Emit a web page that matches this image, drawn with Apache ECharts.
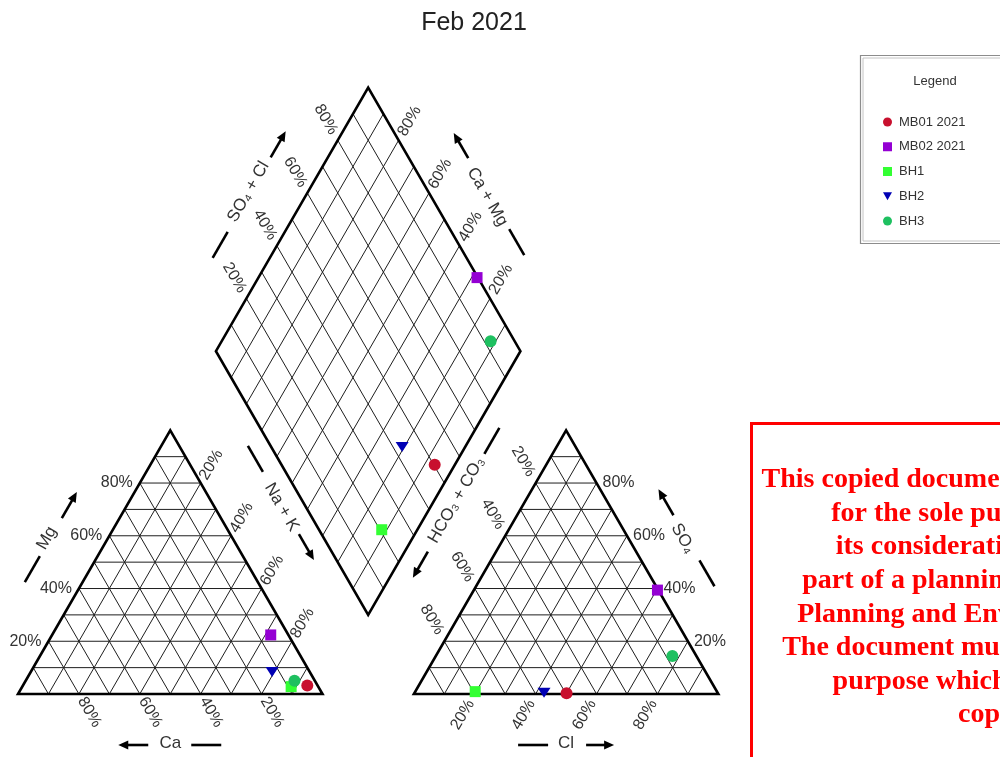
<!DOCTYPE html>
<html>
<head>
<meta charset="utf-8">
<script src="https://cdn.jsdelivr.net/npm/echarts@6/dist/echarts.min.js"></script>
<style>html,body{margin:0;padding:0;background:#fff}#c{width:1000px;height:757px}</style>
</head>
<body>
<div id="c"></div>
<script>
// ---------------- data (percent of meq) ----------------
const samples = ['MB01 2021', 'MB02 2021', 'BH1', 'BH2', 'BH3'];
const Ca   = [3.4, 5.8, 8.9, 12.4, 6.7];
const Mg   = [3.2, 22.4, 2.8, 8.3, 5.0];
const NaK  = [93.4, 71.8, 88.3, 79.3, 88.3];
const HCO3 = [49.7, 0.3, 79.4, 57.0, 7.9];
const SO4  = [0.3, 39.4, 0.9, 0.5, 14.4];
const Cl   = [50.0, 60.3, 19.7, 42.5, 77.7];
const gridSteps = [10, 20, 30, 40, 50, 60, 70, 80, 90];
const tickValues = [20, 40, 60, 80];
const tickLabels = ['20%', '40%', '60%', '80%'];
const axisTitles = ['Mg', 'Ca', 'Na + K', 'Cl', 'SO\u2084', 'HCO\u2083 + CO\u2083', 'SO\u2084 + Cl', 'Ca + Mg'];
const chartTitle = 'Feb 2021';
const legendTitle = 'Legend';
const noticeLines = ['This copied document to be made available', 'for the sole purpose of enabling',
  'its consideration and review as', 'part of a planning process under the',
  'Planning and Environment Act 1987.', 'The document must not be used for any',
  'purpose which may breach any', 'copyright.'];

// ---------------- styles ----------------
const colors = ['#c8102e', '#9400d3', '#33ff33', '#0000b4', '#1ec060'];
const symbols = ['circle', 'rect', 'rect', 'triangle', 'circle'];
const legendIcons = ['circle', 'rect', 'rect', 'path://M0,0L10,0L5,8.66Z', 'circle'];
const symSizes = [12, 11, 11, [13, 10], 12];
const symRot = [0, 0, 0, 180, 0];
const FONT = '"Liberation Sans", Arial, "DejaVu Sans", sans-serif';

// ---------------- Piper geometry (plot units) ----------------
const SQ3 = Math.sqrt(3);
const S = 100, GAP = 30, H = S * SQ3 / 2;
function cat(ca, mg, na) { const t = ca + mg + na; return [(na + mg / 2) / t * S, mg / t * H]; }
function an(hc, so, cl) { const t = hc + so + cl; return [S + GAP + (cl + so / 2) / t * S, so / t * H]; }
const DBX = S + GAP / 2, DBY = GAP * SQ3 / 2;
function dia(cm, sc) { return [DBX + (sc - cm) / 2 * S / 100, DBY + (cm + sc) / 100 * H]; }

const A = cat(100, 0, 0), B = cat(0, 0, 100), C = cat(0, 100, 0);
const D = an(100, 0, 0), E = an(0, 0, 100), F = an(0, 100, 0);
const DB = dia(0, 0), DL = dia(100, 0), DR = dia(0, 100), DT = dia(100, 100);
const shapes = [[A, B, C], [D, E, F], [DB, DR, DT, DL]];
const centers = [[50, H / 3], [S + GAP + 50, H / 3], [DBX, DBY + H]];

// grid segments
const gridSeg = [];
gridSteps.forEach(s => {
  [[cat(100 - s, s, 0), cat(0, s, 100 - s)], [cat(s, 100 - s, 0), cat(s, 0, 100 - s)], [cat(100 - s, 0, s), cat(0, 100 - s, s)],
   [an(100 - s, s, 0), an(0, s, 100 - s)], [an(s, 100 - s, 0), an(s, 0, 100 - s)], [an(100 - s, 0, s), an(0, 100 - s, s)],
   [dia(s, 0), dia(s, 100)], [dia(0, s), dia(100, s)]].forEach(p => gridSeg.push([p[0][0], p[0][1], p[1][0], p[1][1]]));
});

// tick label sets: anchor function, pixel direction, distance, rotation, align
const c60 = 0.5, s60 = SQ3 / 2;
const labelSets = [
  { f: t => cat(t, 0, 100 - t), dir: [c60, s60], d: 21, rot: -60, align: 'center' },
  { f: t => cat(100 - t, t, 0), dir: [-1, 0], d: 7, rot: 0, align: 'right' },
  { f: t => cat(0, 100 - t, t), dir: [c60, -s60], d: 21, rot: 60, align: 'center' },
  { f: t => an(100 - t, 0, t), dir: [-c60, s60], d: 24, rot: 60, align: 'center' },
  { f: t => an(0, t, 100 - t), dir: [1, 0], d: 6, rot: 0, align: 'left' },
  { f: t => an(t, 100 - t, 0), dir: [-c60, -s60], d: 25, rot: -60, align: 'center' },
  { f: t => dia(100, t), dir: [-c60, -s60], d: 24, rot: -60, align: 'center' },
  { f: t => dia(t, 100), dir: [c60, -s60], d: 22, rot: 60, align: 'center' }
];
const tickData = [];
labelSets.forEach((ls, si) => tickValues.forEach((t, ti) => { const p = ls.f(t); tickData.push([p[0], p[1], si, ti]); }));

// axis titles: side p0->p1 (text direction), shape index, offsets in px
const titleDefs = [
  { p0: A, p1: C, sh: 0, nd: 53, td: -3, ld: 50, dash: [-52, -22], arrow: [22, 52] },
  { p0: A, p1: B, sh: 0, nd: 49, td: 0, ld: 51, dash: [21, 51], arrow: [-22, -52] },
  { p0: C, p1: B, sh: 0, nd: 58, td: -30, ld: 59.5, dash: [-100, -70], arrow: [2, 32] },
  { p0: D, p1: E, sh: 1, nd: 49, td: 0, ld: 51, dash: [-48, -18], arrow: [20, 48] },
  { p0: F, p1: E, sh: 1, nd: 47, td: 0, ld: 50.5, dash: [27, 57], arrow: [-25, -55] },
  { p0: D, p1: F, sh: 1, nd: 60, td: 37, ld: 59, dash: [91, 121], arrow: [-22, -52] },
  { p0: DL, p1: DT, sh: 2, nd: 51.5, td: 2, ld: 49.5, dash: [-73, -43], arrow: [43, 73] },
  { p0: DT, p1: DR, sh: 2, nd: 48.5, td: 2, ld: 51.3, dash: [41, 71], arrow: [-41, -70] }
];

// ---------------- sample positions ----------------
const scatterSeries = samples.map((name, i) => {
  const cm = (Ca[i] + Mg[i]) / (Ca[i] + Mg[i] + NaK[i]) * 100;
  const sc = (SO4[i] + Cl[i]) / (HCO3[i] + SO4[i] + Cl[i]) * 100;
  return {
    name, type: 'scatter', z: 5,
    symbol: symbols[i], symbolSize: symSizes[i], symbolRotate: symRot[i],
    itemStyle: { color: colors[i], opacity: 1 },
    data: [cat(Ca[i], Mg[i], NaK[i]), an(HCO3[i], SO4[i], Cl[i]), dia(cm, sc)]
  };
});

const chart = echarts.init(document.getElementById('c'), null, { renderer: 'canvas' });

const noticeGraphics = noticeLines.map((t, i) => ({
  type: 'text', x: 1019, y: 480 + i * 33.6, z: 10,
  style: { text: t, font: 'bold 28px "Liberation Serif", "Times New Roman", serif', fill: '#ff0000', align: 'center', verticalAlign: 'middle' }
}));

chart.setOption({
  animation: false,
  backgroundColor: '#ffffff',
  grid: { left: 18, top: 85, width: 700.35, height: 609 },
  xAxis: { type: 'value', min: 0, max: 230, show: false },
  yAxis: { type: 'value', min: 0, max: 200, show: false },
  legend: {
    orient: 'vertical', left: 878, top: 109.5, itemWidth: 9, itemHeight: 9, itemGap: 9.75,
    textStyle: { fontSize: 13, color: '#333', fontFamily: FONT, lineHeight: 15, padding: [0, 0, 0, 2] },
    data: samples.map((s, i) => ({ name: s, icon: legendIcons[i] }))
  },
  graphic: [
    { type: 'text', x: 474, y: 23, style: { text: chartTitle, font: '25px ' + FONT, fill: '#222', align: 'center', verticalAlign: 'middle' } },
    { type: 'rect', shape: { x: 860.5, y: 55.5, width: 200, height: 188 }, style: { fill: 'none', stroke: '#8c8c8c', lineWidth: 1.2 } },
    { type: 'rect', shape: { x: 863, y: 58, width: 200, height: 183 }, style: { fill: 'none', stroke: '#c4c4c4', lineWidth: 1 } },
    { type: 'text', x: 935, y: 81.5, style: { text: legendTitle, font: '13px ' + FONT, fill: '#333', align: 'center', verticalAlign: 'middle' } },
    { type: 'rect', shape: { x: 751.5, y: 423.5, width: 400, height: 400 }, style: { fill: 'none', stroke: '#ff0000', lineWidth: 3 } }
  ].concat(noticeGraphics),
  series: [
    { // grid lines
      type: 'custom', silent: true, z: 1, clip: false,
      data: gridSeg,
      renderItem: (params, api) => {
        const p1 = api.coord([api.value(0), api.value(1)]);
        const p2 = api.coord([api.value(2), api.value(3)]);
        return { type: 'line', shape: { x1: p1[0], y1: p1[1], x2: p2[0], y2: p2[1] }, style: { stroke: '#1e1e1e', lineWidth: 1 } };
      }
    },
    { // outlines
      type: 'custom', silent: true, z: 2, clip: false,
      data: shapes.map((s, i) => [i]),
      renderItem: (params, api) => {
        const pts = shapes[api.value(0)].map(p => api.coord(p));
        return { type: 'polygon', shape: { points: pts }, style: { fill: 'none', stroke: '#000', lineWidth: 2.6, lineJoin: 'miter' } };
      }
    },
    { // tick labels
      type: 'custom', silent: true, z: 3, clip: false,
      data: tickData,
      renderItem: (params, api) => {
        const p = api.coord([api.value(0), api.value(1)]);
        const ls = labelSets[api.value(2)];
        return {
          type: 'text', x: p[0] + ls.dir[0] * ls.d, y: p[1] + ls.dir[1] * ls.d, rotation: ls.rot * Math.PI / 180,
          style: { text: tickLabels[api.value(3)], font: '16px ' + FONT, fill: '#333', align: ls.align, verticalAlign: 'middle' }
        };
      }
    },
    { // axis titles with dashes and arrows
      type: 'custom', silent: true, z: 3, clip: false,
      data: titleDefs.map((t, i) => [i]),
      renderItem: (params, api) => {
        const idx = api.value(0), td = titleDefs[idx];
        const q0 = api.coord(td.p0), q1 = api.coord(td.p1), qc = api.coord(centers[td.sh]);
        const len = Math.hypot(q1[0] - q0[0], q1[1] - q0[1]);
        const u = [(q1[0] - q0[0]) / len, (q1[1] - q0[1]) / len];
        let n = [u[1], -u[0]];
        const mid = [(q0[0] + q1[0]) / 2, (q0[1] + q1[1]) / 2];
        if (n[0] * (mid[0] - qc[0]) + n[1] * (mid[1] - qc[1]) < 0) n = [-n[0], -n[1]];
        const at = (nd, t) => [mid[0] + n[0] * nd + u[0] * t, mid[1] + n[1] * nd + u[1] * t];
        const tc = at(td.nd, td.td);
        const d0 = at(td.ld, td.dash[0]), d1 = at(td.ld, td.dash[1]);
        const a0 = at(td.ld, td.arrow[0]), a1 = at(td.ld, td.arrow[1]);
        const sg = Math.sign(td.arrow[1] - td.arrow[0]);
        const ad = [u[0] * sg, u[1] * sg];
        const hl = 10, hw = 4.5;
        const back = [a1[0] - ad[0] * hl, a1[1] - ad[1] * hl];
        const pn = [-ad[1], ad[0]];
        const shaftEnd = [a1[0] - ad[0] * (hl - 2), a1[1] - ad[1] * (hl - 2)];
        return {
          type: 'group',
          children: [
            { type: 'text', x: tc[0], y: tc[1], rotation: -Math.atan2(u[1], u[0]),
              style: { text: axisTitles[idx], font: '17px ' + FONT, fill: '#333', align: 'center', verticalAlign: 'middle' } },
            { type: 'line', shape: { x1: d0[0], y1: d0[1], x2: d1[0], y2: d1[1] }, style: { stroke: '#000', lineWidth: 2.6 } },
            { type: 'line', shape: { x1: a0[0], y1: a0[1], x2: shaftEnd[0], y2: shaftEnd[1] }, style: { stroke: '#000', lineWidth: 2.6 } },
            { type: 'polygon', shape: { points: [a1, [back[0] + pn[0] * hw, back[1] + pn[1] * hw], [back[0] - pn[0] * hw, back[1] - pn[1] * hw]] }, style: { fill: '#000' } }
          ]
        };
      }
    }
  ].concat(scatterSeries)
});
</script>
</body>
</html>
